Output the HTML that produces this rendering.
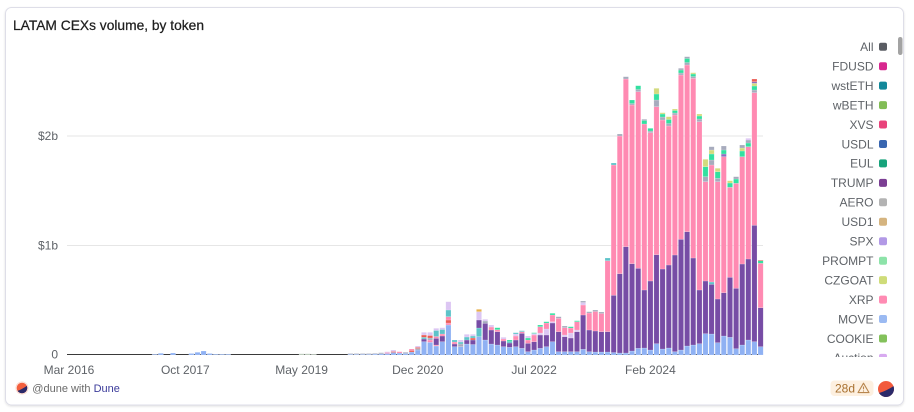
<!DOCTYPE html>
<html><head><meta charset="utf-8"><style>
html,body{margin:0;padding:0;background:#fff;}
body{width:914px;height:412px;overflow:hidden;font-family:"Liberation Sans",sans-serif;}
svg{display:block;}
.b{fill:#8fb1f3}.p{fill:#774ca5}.k{fill:#ff8ab2}.g{fill:#33e0a0}.y{fill:#d3db7e}.gy{fill:#a7abbd}.l{fill:#dcc6f3}.t{fill:#5ec3c9}.r{fill:#ea5c55}.o{fill:#e8b04c}.q{fill:#b5c5b5}.p2{fill:#8a6fc0}
.bars rect{stroke:#fff;stroke-opacity:.35;stroke-width:.5}
.ax{font-size:12px;fill:#5f6368;}
.lg{font-size:12px;fill:#5f6368;text-anchor:end;}
</style></head><body>
<svg width="914" height="412" viewBox="0 0 914 412" xmlns="http://www.w3.org/2000/svg">
<defs>
<filter id="sh" x="-5%" y="-5%" width="110%" height="115%"><feDropShadow dx="0" dy="1" stdDeviation="1" flood-color="#000" flood-opacity="0.12"/></filter>
<clipPath id="lgclip"><rect x="790" y="30" width="110" height="327"/></clipPath>
<clipPath id="c1"><circle cx="22" cy="388" r="5.3"/></clipPath>
<clipPath id="c2"><circle cx="886" cy="389" r="8"/></clipPath>
</defs>
<rect x="5.5" y="7.5" width="898" height="397.5" rx="6" fill="#fff" stroke="#dedee8" filter="url(#sh)"/>
<text x="13" y="30" font-size="14" fill="#1f1f1f" textLength="191" lengthAdjust="spacingAndGlyphs" stroke="#1f1f1f" stroke-width="0.25">LATAM CEXs volume, by token</text>

<!-- grid -->
<line x1="67" y1="136" x2="763" y2="136" stroke="#e6e6e6" stroke-width="1"/>
<line x1="67" y1="245.5" x2="763" y2="245.5" stroke="#e6e6e6" stroke-width="1"/>
<line x1="67" y1="354.5" x2="763" y2="354.5" stroke="#3a3a3a" stroke-width="1"/>
<text class="ax" x="58" y="140" text-anchor="end">$2b</text>
<text class="ax" x="58" y="249.5" text-anchor="end">$1b</text>
<text class="ax" x="58" y="358.5" text-anchor="end">0</text>

<text class="ax" x="69" y="374" text-anchor="middle">Mar 2016</text>
<text class="ax" x="185.3" y="374" text-anchor="middle">Oct 2017</text>
<text class="ax" x="301.6" y="374" text-anchor="middle">May 2019</text>
<text class="ax" x="417.8" y="374" text-anchor="middle">Dec 2020</text>
<text class="ax" x="534.1" y="374" text-anchor="middle">Jul 2022</text>
<text class="ax" x="650.4" y="374" text-anchor="middle">Feb 2024</text>

<g class="bars">
<rect class="b" x="152.1" y="354.3" width="5.2" height="0.7"/>
<rect class="b" x="158.2" y="353.3" width="5.2" height="1.7"/>
<rect class="b" x="170.4" y="353" width="5.2" height="2"/>
<rect class="b" x="188.8" y="353.5" width="5.2" height="1.5"/>
<rect class="b" x="194.9" y="352.3" width="5.2" height="2.7"/>
<rect class="b" x="201.0" y="351" width="5.2" height="4"/>
<rect class="b" x="207.2" y="353.5" width="5.2" height="1.5"/>
<rect class="b" x="213.3" y="354.2" width="5.2" height="0.8"/>
<rect class="b" x="219.4" y="354.2" width="5.2" height="0.8"/>
<rect class="b" x="225.5" y="354.2" width="5.2" height="0.8"/>
<rect class="q" x="299.0" y="353.8" width="5.2" height="1.2"/>
<rect class="q" x="305.1" y="353.8" width="5.2" height="1.2"/>
<rect class="q" x="311.2" y="354.2" width="5.2" height="0.8"/>
<!-- 46-50 -->
<rect class="b" x="347.9" y="354.2" width="5.2" height="0.8"/><rect class="gy" x="347.9" y="353.5" width="5.2" height="0.7"/>
<rect class="b" x="354.0" y="354.2" width="5.2" height="0.8"/><rect class="gy" x="354.0" y="353.5" width="5.2" height="0.7"/>
<rect class="b" x="360.2" y="354.2" width="5.2" height="0.8"/><rect class="gy" x="360.2" y="353.5" width="5.2" height="0.7"/>
<rect class="b" x="366.3" y="354.2" width="5.2" height="0.8"/><rect class="gy" x="366.3" y="353.5" width="5.2" height="0.7"/>
<rect class="b" x="372.4" y="354" width="5.2" height="1"/><rect class="gy" x="372.4" y="353.3" width="5.2" height="0.7"/>
<!-- 51 -->
<rect class="b" x="378.5" y="353.8" width="5.2" height="1.2"/><rect class="gy" x="378.5" y="352.7" width="5.2" height="1.1"/>
<!-- 52 -->
<rect class="b" x="384.6" y="353.5" width="5.2" height="1.5"/><rect class="k" x="384.6" y="352.5" width="5.2" height="1"/><rect class="l" x="384.6" y="351.7" width="5.2" height="0.8"/>
<!-- 53 -->
<rect class="b" x="390.8" y="352.5" width="5.2" height="2.5"/><rect class="r" x="390.8" y="351.5" width="5.2" height="1"/><rect class="l" x="390.8" y="350" width="5.2" height="1.5"/>
<!-- 54 -->
<rect class="b" x="396.9" y="353" width="5.2" height="2"/><rect class="k" x="396.9" y="351.7" width="5.2" height="1.3"/>
<!-- 55 -->
<rect class="b" x="403.0" y="353.5" width="5.2" height="1.5"/><rect class="gy" x="403.0" y="352.3" width="5.2" height="1.2"/>
<!-- 56 -->
<rect class="b" x="409.1" y="352" width="5.2" height="3"/><rect class="r" x="409.1" y="350.5" width="5.2" height="1.5"/><rect class="k" x="409.1" y="349" width="5.2" height="1.5"/>
<!-- 57 -->
<rect class="b" x="415.2" y="350" width="5.2" height="5"/><rect class="gy" x="415.2" y="348.5" width="5.2" height="1.5"/><rect class="r" x="415.2" y="347.3" width="5.2" height="1.2"/><rect class="l" x="415.2" y="346" width="5.2" height="1.3"/>
<!-- 58 -->
<rect class="b" x="421.4" y="341.7" width="5.2" height="13.3"/><rect class="p" x="421.4" y="339" width="5.2" height="2.7"/><rect class="t" x="421.4" y="337.3" width="5.2" height="1.7"/><rect class="r" x="421.4" y="335" width="5.2" height="2.3"/><rect class="l" x="421.4" y="332.3" width="5.2" height="2.7"/>
<!-- 59 -->
<rect class="b" x="427.5" y="342.3" width="5.2" height="12.7"/><rect class="k" x="427.5" y="340" width="5.2" height="2.3"/><rect class="gy" x="427.5" y="338" width="5.2" height="2"/><rect class="r" x="427.5" y="335.5" width="5.2" height="2.5"/><rect class="l" x="427.5" y="332.3" width="5.2" height="3.2"/>
<!-- 60 -->
<rect class="b" x="433.6" y="346" width="5.2" height="9"/><rect class="k" x="433.6" y="345" width="5.2" height="1"/><rect class="p" x="433.6" y="338.3" width="5.2" height="6.7"/><rect class="k" x="433.6" y="336.5" width="5.2" height="1.8"/><rect class="t" x="433.6" y="330.5" width="5.2" height="6"/><rect class="l" x="433.6" y="328.3" width="5.2" height="2.2"/>
<!-- 61 -->
<rect class="b" x="439.7" y="341.7" width="5.2" height="13.3"/><rect class="p" x="439.7" y="336" width="5.2" height="5.7"/><rect class="k" x="439.7" y="334" width="5.2" height="2"/><rect class="t" x="439.7" y="329.5" width="5.2" height="4.5"/><rect class="l" x="439.7" y="327.7" width="5.2" height="1.8"/>
<!-- 62 -->
<rect class="b" x="445.8" y="325" width="5.2" height="30"/><rect class="k" x="445.8" y="323" width="5.2" height="2"/><rect class="r" x="445.8" y="320" width="5.2" height="3"/><rect class="k" x="445.8" y="316.7" width="5.2" height="3.3"/><rect class="t" x="445.8" y="310" width="5.2" height="6.7"/><rect class="l" x="445.8" y="301.7" width="5.2" height="8.3"/>
<!-- 63 -->
<rect class="b" x="452.0" y="346.7" width="5.2" height="8.3"/><rect class="p" x="452.0" y="344" width="5.2" height="2.7"/><rect class="k" x="452.0" y="342" width="5.2" height="2"/><rect class="t" x="452.0" y="340" width="5.2" height="2"/>
<!-- 64 -->
<rect class="b" x="458.1" y="346.7" width="5.2" height="8.3"/><rect class="gy" x="458.1" y="344" width="5.2" height="2.7"/><rect class="t" x="458.1" y="342" width="5.2" height="2"/><rect class="l" x="458.1" y="340" width="5.2" height="2"/>
<!-- 65 -->
<rect class="b" x="464.2" y="344" width="5.2" height="11"/><rect class="p" x="464.2" y="340" width="5.2" height="4"/><rect class="t" x="464.2" y="337" width="5.2" height="3"/><rect class="l" x="464.2" y="334.3" width="5.2" height="2.7"/>
<!-- 66 -->
<rect class="b" x="470.3" y="344.5" width="5.2" height="10.5"/><rect class="p" x="470.3" y="340" width="5.2" height="4.5"/><rect class="r" x="470.3" y="338" width="5.2" height="2"/><rect class="t" x="470.3" y="336" width="5.2" height="2"/><rect class="l" x="470.3" y="334.3" width="5.2" height="1.7"/>
<!-- 67 -->
<rect class="b" x="476.4" y="336.7" width="5.2" height="18.3"/><rect class="t" x="476.4" y="328" width="5.2" height="8.7"/><rect class="p" x="476.4" y="320" width="5.2" height="8"/><rect class="l" x="476.4" y="311.7" width="5.2" height="8.3"/><rect class="o" x="476.4" y="309.3" width="5.2" height="2.4"/>
<!-- 68 -->
<rect class="b" x="482.6" y="340" width="5.2" height="15"/><rect class="p" x="482.6" y="323.3" width="5.2" height="16.7"/><rect class="gy" x="482.6" y="321" width="5.2" height="2.3"/><rect class="l" x="482.6" y="319.3" width="5.2" height="1.7"/>
<!-- 69 -->
<rect class="b" x="488.7" y="344" width="5.2" height="11"/><rect class="p" x="488.7" y="330" width="5.2" height="14"/><rect class="k" x="488.7" y="327" width="5.2" height="3"/><rect class="l" x="488.7" y="325" width="5.2" height="2"/>
<!-- 70 -->
<rect class="b" x="494.8" y="345" width="5.2" height="10"/><rect class="p" x="494.8" y="331.7" width="5.2" height="13.3"/><rect class="k" x="494.8" y="329.7" width="5.2" height="2"/><rect class="g" x="494.8" y="327.7" width="5.2" height="2"/>
<!-- 71 -->
<rect class="b" x="500.9" y="346.7" width="5.2" height="8.3"/><rect class="p" x="500.9" y="341" width="5.2" height="5.7"/><rect class="k" x="500.9" y="339" width="5.2" height="2"/><rect class="l" x="500.9" y="337.3" width="5.2" height="1.7"/>
<!-- 72 -->
<rect class="b" x="507.0" y="347.3" width="5.2" height="7.7"/><rect class="p" x="507.0" y="343" width="5.2" height="4.3"/><rect class="t" x="507.0" y="341.5" width="5.2" height="1.5"/><rect class="g" x="507.0" y="340" width="5.2" height="1.5"/>
<!-- 73 -->
<rect class="b" x="513.2" y="346.7" width="5.2" height="8.3"/><rect class="p" x="513.2" y="340" width="5.2" height="6.7"/><rect class="k" x="513.2" y="336" width="5.2" height="4"/><rect class="l" x="513.2" y="334" width="5.2" height="2"/><rect class="t" x="513.2" y="332.7" width="5.2" height="1.3"/>
<!-- 74 -->
<rect class="b" x="519.3" y="348.3" width="5.2" height="6.7"/><rect class="p" x="519.3" y="333.3" width="5.2" height="15"/><rect class="k" x="519.3" y="331.7" width="5.2" height="1.6"/><rect class="t" x="519.3" y="330.7" width="5.2" height="1"/>
<!-- 75 -->
<rect class="b" x="525.4" y="351.7" width="5.2" height="3.3"/><rect class="p" x="525.4" y="343.3" width="5.2" height="8.4"/><rect class="k" x="525.4" y="340" width="5.2" height="3.3"/><rect class="g" x="525.4" y="338" width="5.2" height="2"/><rect class="l" x="525.4" y="336" width="5.2" height="2"/>
<!-- 76 -->
<rect class="b" x="531.5" y="350" width="5.2" height="5"/><rect class="p" x="531.5" y="341.7" width="5.2" height="8.3"/><rect class="k" x="531.5" y="335" width="5.2" height="6.7"/><rect class="l" x="531.5" y="333.5" width="5.2" height="1.5"/><rect class="g" x="531.5" y="332.7" width="5.2" height="0.8"/>
<!-- 77 -->
<rect class="b" x="537.6" y="348.3" width="5.2" height="6.7"/><rect class="p" x="537.6" y="335" width="5.2" height="13.3"/><rect class="l" x="537.6" y="333" width="5.2" height="2"/><rect class="k" x="537.6" y="326.7" width="5.2" height="6.3"/><rect class="g" x="537.6" y="325" width="5.2" height="1.7"/>
<!-- 78 -->
<rect class="b" x="543.8" y="346.7" width="5.2" height="8.3"/><rect class="p" x="543.8" y="335" width="5.2" height="11.7"/><rect class="l" x="543.8" y="329" width="5.2" height="6"/><rect class="k" x="543.8" y="323" width="5.2" height="6"/><rect class="g" x="543.8" y="321.7" width="5.2" height="1.3"/>
<!-- 79 -->
<rect class="b" x="549.9" y="341.7" width="5.2" height="13.3"/><rect class="p" x="549.9" y="323" width="5.2" height="18.7"/><rect class="l" x="549.9" y="321.7" width="5.2" height="1.3"/><rect class="k" x="549.9" y="315" width="5.2" height="6.7"/><rect class="g" x="549.9" y="313.3" width="5.2" height="1.7"/>
<!-- 80 -->
<rect class="b" x="556.0" y="351.7" width="5.2" height="3.3"/><rect class="p" x="556.0" y="331.7" width="5.2" height="20"/><rect class="k" x="556.0" y="318.3" width="5.2" height="13.4"/><rect class="gy" x="556.0" y="316.7" width="5.2" height="1.6"/>
<!-- 81 -->
<rect class="b" x="562.1" y="351.7" width="5.2" height="3.3"/><rect class="p" x="562.1" y="336.7" width="5.2" height="15"/><rect class="l" x="562.1" y="335" width="5.2" height="1.7"/><rect class="k" x="562.1" y="327.7" width="5.2" height="7.3"/><rect class="gy" x="562.1" y="326" width="5.2" height="1.7"/>
<!-- 82 -->
<rect class="b" x="568.2" y="351.7" width="5.2" height="3.3"/><rect class="p" x="568.2" y="338" width="5.2" height="13.7"/><rect class="l" x="568.2" y="333" width="5.2" height="5"/><rect class="k" x="568.2" y="328" width="5.2" height="5"/><rect class="g" x="568.2" y="326.7" width="5.2" height="1.3"/>
<!-- 83 -->
<rect class="b" x="574.4" y="351.7" width="5.2" height="3.3"/><rect class="p" x="574.4" y="331.7" width="5.2" height="20"/><rect class="l" x="574.4" y="330" width="5.2" height="1.7"/><rect class="k" x="574.4" y="321.7" width="5.2" height="8.3"/><rect class="g" x="574.4" y="320.7" width="5.2" height="1"/>
<!-- 84 -->
<rect class="b" x="580.5" y="349.3" width="5.2" height="5.7"/><rect class="p" x="580.5" y="315" width="5.2" height="34.3"/><rect class="k" x="580.5" y="305" width="5.2" height="10"/><rect class="l" x="580.5" y="302.5" width="5.2" height="2.5"/><rect class="gy" x="580.5" y="301" width="5.2" height="1.5"/>
<!-- 85 -->
<rect class="b" x="586.6" y="351.7" width="5.2" height="3.3"/><rect class="p" x="586.6" y="330" width="5.2" height="21.7"/><rect class="k" x="586.6" y="313" width="5.2" height="17"/><rect class="gy" x="586.6" y="311.7" width="5.2" height="1.3"/>
<!-- 86 -->
<rect class="b" x="592.7" y="352" width="5.2" height="3"/><rect class="p" x="592.7" y="331" width="5.2" height="21"/><rect class="k" x="592.7" y="311.5" width="5.2" height="19.5"/><rect class="gy" x="592.7" y="310" width="5.2" height="1.5"/>
<!-- 87 -->
<rect class="b" x="598.8" y="352" width="5.2" height="3"/><rect class="p" x="598.8" y="331.7" width="5.2" height="20.3"/><rect class="k" x="598.8" y="313.5" width="5.2" height="18.2"/><rect class="gy" x="598.8" y="312" width="5.2" height="1.5"/>
<!-- 88 -->
<rect class="b" x="605.0" y="352" width="5.2" height="3"/><rect class="p" x="605.0" y="331.7" width="5.2" height="20.3"/><rect class="k" x="605.0" y="260.7" width="5.2" height="71"/><rect class="t" x="605.0" y="258" width="5.2" height="2.7"/>
<!-- 89 -->
<rect class="b" x="611.1" y="352.5" width="5.2" height="2.5"/><rect class="p" x="611.1" y="295.3" width="5.2" height="57.2"/><rect class="k" x="611.1" y="165" width="5.2" height="130.3"/><rect class="t" x="611.1" y="163" width="5.2" height="2"/>
<!-- 90 -->
<rect class="b" x="617.2" y="353" width="5.2" height="2"/><rect class="p" x="617.2" y="273.7" width="5.2" height="79.3"/><rect class="k" x="617.2" y="136" width="5.2" height="137.7"/><rect class="gy" x="617.2" y="134" width="5.2" height="2"/>
<!-- 91 -->
<rect class="b" x="623.3" y="353" width="5.2" height="2"/><rect class="p" x="623.3" y="246.7" width="5.2" height="106.3"/><rect class="k" x="623.3" y="79" width="5.2" height="167.7"/><rect class="gy" x="623.3" y="76.7" width="5.2" height="2.3"/>
<!-- 92 -->
<rect class="b" x="629.4" y="351" width="5.2" height="4"/><rect class="p" x="629.4" y="263.7" width="5.2" height="87.3"/><rect class="k" x="629.4" y="105" width="5.2" height="158.7"/><rect class="gy" x="629.4" y="103.5" width="5.2" height="1.5"/><rect class="g" x="629.4" y="100" width="5.2" height="3.5"/>
<!-- 93 -->
<rect class="b" x="635.6" y="348.3" width="5.2" height="6.7"/><rect class="p" x="635.6" y="268.3" width="5.2" height="80"/><rect class="k" x="635.6" y="91.7" width="5.2" height="176.6"/><rect class="gy" x="635.6" y="89.5" width="5.2" height="2.2"/><rect class="g" x="635.6" y="85.7" width="5.2" height="3.8"/>
<!-- 94 -->
<rect class="b" x="641.7" y="348" width="5.2" height="7"/><rect class="p" x="641.7" y="290" width="5.2" height="58"/><rect class="k" x="641.7" y="124" width="5.2" height="166"/><rect class="g" x="641.7" y="120.5" width="5.2" height="3.5"/><rect class="gy" x="641.7" y="119.3" width="5.2" height="1.2"/>
<!-- 95 -->
<rect class="b" x="647.8" y="350" width="5.2" height="5"/><rect class="p" x="647.8" y="281" width="5.2" height="69"/><rect class="k" x="647.8" y="132.7" width="5.2" height="148.3"/><rect class="gy" x="647.8" y="131" width="5.2" height="1.7"/><rect class="g" x="647.8" y="128.3" width="5.2" height="2.7"/>
<!-- 96 -->
<rect class="b" x="653.9" y="343.7" width="5.2" height="11.3"/><rect class="p" x="653.9" y="254.7" width="5.2" height="89"/><rect class="k" x="653.9" y="106.7" width="5.2" height="148"/><rect class="gy" x="653.9" y="100" width="5.2" height="6.7"/><rect class="g" x="653.9" y="94" width="5.2" height="6"/><rect class="y" x="653.9" y="88.3" width="5.2" height="5.7"/>
<!-- 97 -->
<rect class="b" x="660.0" y="349" width="5.2" height="6"/><rect class="p" x="660.0" y="269" width="5.2" height="80"/><rect class="k" x="660.0" y="120" width="5.2" height="149"/><rect class="gy" x="660.0" y="117" width="5.2" height="3"/><rect class="g" x="660.0" y="114" width="5.2" height="3"/><rect class="y" x="660.0" y="112.7" width="5.2" height="1.3"/>
<!-- 98 -->
<rect class="b" x="666.2" y="348" width="5.2" height="7"/><rect class="p" x="666.2" y="265" width="5.2" height="83"/><rect class="k" x="666.2" y="126" width="5.2" height="139"/><rect class="gy" x="666.2" y="123.5" width="5.2" height="2.5"/><rect class="g" x="666.2" y="119.5" width="5.2" height="4"/><rect class="y" x="666.2" y="116.7" width="5.2" height="2.8"/>
<!-- 99 -->
<rect class="b" x="672.3" y="351.7" width="5.2" height="3.3"/><rect class="p" x="672.3" y="255" width="5.2" height="96.7"/><rect class="k" x="672.3" y="115" width="5.2" height="140"/><rect class="gy" x="672.3" y="113" width="5.2" height="2"/><rect class="g" x="672.3" y="110.5" width="5.2" height="2.5"/><rect class="y" x="672.3" y="109" width="5.2" height="1.5"/>
<!-- 100 -->
<rect class="b" x="678.4" y="350" width="5.2" height="5"/><rect class="p" x="678.4" y="239.3" width="5.2" height="110.7"/><rect class="k" x="678.4" y="75" width="5.2" height="164.3"/><rect class="gy" x="678.4" y="73" width="5.2" height="2"/><rect class="g" x="678.4" y="70" width="5.2" height="3"/><rect class="gy" x="678.4" y="68.3" width="5.2" height="1.7"/>
<!-- 101 -->
<rect class="b" x="684.5" y="346" width="5.2" height="9"/><rect class="p" x="684.5" y="231.7" width="5.2" height="114.3"/><rect class="k" x="684.5" y="65" width="5.2" height="166.7"/><rect class="gy" x="684.5" y="62.5" width="5.2" height="2.5"/><rect class="g" x="684.5" y="58.5" width="5.2" height="4"/><rect class="gy" x="684.5" y="56.7" width="5.2" height="1.8"/>
<!-- 102 -->
<rect class="b" x="690.6" y="345" width="5.2" height="10"/><rect class="p" x="690.6" y="258" width="5.2" height="87"/><rect class="k" x="690.6" y="78.3" width="5.2" height="179.7"/><rect class="gy" x="690.6" y="76.5" width="5.2" height="1.8"/><rect class="g" x="690.6" y="74" width="5.2" height="2.5"/><rect class="y" x="690.6" y="72.7" width="5.2" height="1.3"/>
<!-- 103 -->
<rect class="b" x="696.8" y="343.7" width="5.2" height="11.3"/><rect class="p" x="696.8" y="290" width="5.2" height="53.7"/><rect class="k" x="696.8" y="121.7" width="5.2" height="168.3"/><rect class="gy" x="696.8" y="119" width="5.2" height="2.7"/><rect class="g" x="696.8" y="116" width="5.2" height="3"/><rect class="y" x="696.8" y="114" width="5.2" height="2"/>
<!-- 104 -->
<rect class="b" x="702.9" y="333.7" width="5.2" height="21.3"/><rect class="p" x="702.9" y="281" width="5.2" height="52.7"/><rect class="k" x="702.9" y="181.7" width="5.2" height="99.3"/><rect class="gy" x="702.9" y="176.7" width="5.2" height="5"/><rect class="g" x="702.9" y="166.7" width="5.2" height="10"/><rect class="y" x="702.9" y="159.3" width="5.2" height="7.4"/>
<!-- 105 -->
<rect class="b" x="709.0" y="334" width="5.2" height="21"/><rect class="p" x="709.0" y="284.3" width="5.2" height="49.7"/><rect class="t" x="709.0" y="282" width="5.2" height="2.3"/><rect class="k" x="709.0" y="165" width="5.2" height="117"/><rect class="gy" x="709.0" y="160" width="5.2" height="5"/><rect class="g" x="709.0" y="154" width="5.2" height="6"/><rect class="y" x="709.0" y="150" width="5.2" height="4"/><rect class="gy" x="709.0" y="146.7" width="5.2" height="3.3"/>
<!-- 106 -->
<rect class="b" x="715.1" y="342.7" width="5.2" height="12.3"/><rect class="p" x="715.1" y="299" width="5.2" height="43.7"/><rect class="k" x="715.1" y="181.7" width="5.2" height="117.3"/><rect class="gy" x="715.1" y="178.3" width="5.2" height="3.4"/><rect class="g" x="715.1" y="171.7" width="5.2" height="6.6"/><rect class="y" x="715.1" y="168.3" width="5.2" height="3.4"/>
<!-- 107 -->
<rect class="b" x="721.2" y="336" width="5.2" height="19"/><rect class="p" x="721.2" y="292.7" width="5.2" height="43.3"/><rect class="k" x="721.2" y="156.7" width="5.2" height="136"/><rect class="p2" x="721.2" y="154" width="5.2" height="2.7"/><rect class="g" x="721.2" y="150" width="5.2" height="4"/><rect class="gy" x="721.2" y="146" width="5.2" height="4"/>
<!-- 108 -->
<rect class="b" x="727.4" y="337.3" width="5.2" height="17.7"/><rect class="p" x="727.4" y="277.3" width="5.2" height="60"/><rect class="k" x="727.4" y="187.3" width="5.2" height="90"/><rect class="g" x="727.4" y="183" width="5.2" height="4.3"/><rect class="y" x="727.4" y="180.7" width="5.2" height="2.3"/>
<!-- 109 -->
<rect class="b" x="733.5" y="348.7" width="5.2" height="6.3"/><rect class="p" x="733.5" y="288.3" width="5.2" height="60.4"/><rect class="k" x="733.5" y="183.3" width="5.2" height="105"/><rect class="g" x="733.5" y="179" width="5.2" height="4.3"/><rect class="gy" x="733.5" y="176.7" width="5.2" height="2.3"/>
<!-- 110 -->
<rect class="b" x="739.6" y="345" width="5.2" height="10"/><rect class="p" x="739.6" y="264" width="5.2" height="81"/><rect class="k" x="739.6" y="156.7" width="5.2" height="107.3"/><rect class="g" x="739.6" y="151" width="5.2" height="5.7"/><rect class="y" x="739.6" y="148" width="5.2" height="3"/><rect class="gy" x="739.6" y="145" width="5.2" height="3"/>
<!-- 111 -->
<rect class="b" x="745.7" y="340" width="5.2" height="15"/><rect class="p" x="745.7" y="259" width="5.2" height="81"/><rect class="k" x="745.7" y="146.7" width="5.2" height="112.3"/><rect class="g" x="745.7" y="143" width="5.2" height="3.7"/><rect class="gy" x="745.7" y="140" width="5.2" height="3"/><rect class="l" x="745.7" y="138.3" width="5.2" height="1.7"/>
<!-- 112 -->
<rect class="b" x="751.8" y="341.7" width="5.2" height="13.3"/><rect class="p" x="751.8" y="225.3" width="5.2" height="116.4"/><rect class="k" x="751.8" y="92.7" width="5.2" height="132.6"/><rect class="gy" x="751.8" y="90" width="5.2" height="2.7"/><rect class="g" x="751.8" y="86" width="5.2" height="4"/><rect class="y" x="751.8" y="83.3" width="5.2" height="2.7"/><rect class="p2" x="751.8" y="81.7" width="5.2" height="1.6"/><rect class="r" x="751.8" y="79" width="5.2" height="2.7"/>
<!-- 113 -->
<rect class="b" x="758.0" y="346.7" width="5.2" height="8.3"/><rect class="p" x="758.0" y="307.7" width="5.2" height="39"/><rect class="k" x="758.0" y="263.3" width="5.2" height="44.4"/><rect class="g" x="758.0" y="260.7" width="5.2" height="2.6"/><rect class="r" x="758.0" y="260" width="5.2" height="0.7"/>
</g>

<!-- legend -->
<g clip-path="url(#lgclip)">
<text class="lg" x="873.5" y="51">All</text><rect x="879" y="42.7" width="8" height="8" rx="2" fill="#5a5d63"/>
<text class="lg" x="873.5" y="70.5">FDUSD</text><rect x="879" y="62.2" width="8" height="8" rx="2" fill="#d8288f"/>
<text class="lg" x="873.5" y="89.9">wstETH</text><rect x="879" y="81.6" width="8" height="8" rx="2" fill="#12889a"/>
<text class="lg" x="873.5" y="109.4">wBETH</text><rect x="879" y="101.1" width="8" height="8" rx="2" fill="#82bd56"/>
<text class="lg" x="873.5" y="128.8">XVS</text><rect x="879" y="120.5" width="8" height="8" rx="2" fill="#e9437b"/>
<text class="lg" x="873.5" y="148.3">USDL</text><rect x="879" y="140" width="8" height="8" rx="2" fill="#3866b0"/>
<text class="lg" x="873.5" y="167.7">EUL</text><rect x="879" y="159.4" width="8" height="8" rx="2" fill="#17a37b"/>
<text class="lg" x="873.5" y="187.2">TRUMP</text><rect x="879" y="178.9" width="8" height="8" rx="2" fill="#7b3e93"/>
<text class="lg" x="873.5" y="206.6">AERO</text><rect x="879" y="198.3" width="8" height="8" rx="2" fill="#b3b3b3"/>
<text class="lg" x="873.5" y="226.1">USD1</text><rect x="879" y="217.8" width="8" height="8" rx="2" fill="#d5b47f"/>
<text class="lg" x="873.5" y="245.5">SPX</text><rect x="879" y="237.2" width="8" height="8" rx="2" fill="#b299e6"/>
<text class="lg" x="873.5" y="265">PROMPT</text><rect x="879" y="256.7" width="8" height="8" rx="2" fill="#8de3a9"/>
<text class="lg" x="873.5" y="284.4">CZGOAT</text><rect x="879" y="276.1" width="8" height="8" rx="2" fill="#cfdc79"/>
<text class="lg" x="873.5" y="303.9">XRP</text><rect x="879" y="295.6" width="8" height="8" rx="2" fill="#ff8bb3"/>
<text class="lg" x="873.5" y="323.3">MOVE</text><rect x="879" y="315" width="8" height="8" rx="2" fill="#9bbaf2"/>
<text class="lg" x="873.5" y="342.8">COOKIE</text><rect x="879" y="334.5" width="8" height="8" rx="2" fill="#83c15b"/>
<text class="lg" x="873.5" y="362.2">Auction</text><rect x="879" y="353.9" width="8" height="8" rx="2" fill="#d8aaf0"/>
</g>
<rect x="898" y="37" width="4.5" height="18" rx="2.2" fill="#a3a3a3"/>

<!-- footer left -->
<circle cx="22" cy="388" r="5.3" fill="#f4603e"/>
<g clip-path="url(#c1)"><path d="M16,391.5 Q22,389.5 28,385 L28,395 L16,395 Z" fill="#2b2a6a"/></g>
<circle cx="22" cy="388" r="6" fill="none" stroke="#fbd9cf" stroke-width="1"/>
<text x="32.3" y="392" font-size="11" fill="#6a6a6a">@dune with <tspan fill="#3b3b9a">Dune</tspan></text>

<!-- footer right -->
<rect x="830.5" y="380.5" width="43" height="15.5" rx="4" fill="#fdf0e0"/>
<text x="835" y="392.3" font-size="12" fill="#a8702f">28d</text>
<path d="M863.5,383.2 L869,392.6 L858,392.6 Z" fill="none" stroke="#b8864e" stroke-width="1.1" stroke-linejoin="round"/>
<line x1="863.5" y1="386.5" x2="863.5" y2="389.3" stroke="#b8864e" stroke-width="1.1"/>
<circle cx="863.5" cy="391" r="0.6" fill="#b8864e"/>
<circle cx="886" cy="389" r="8" fill="#f25a3c"/>
<g clip-path="url(#c2)"><path d="M877,393.5 Q886,391.5 895,385 L895,398 L877,398 Z" fill="#2b2a6a"/></g>
</svg>
</body></html>
